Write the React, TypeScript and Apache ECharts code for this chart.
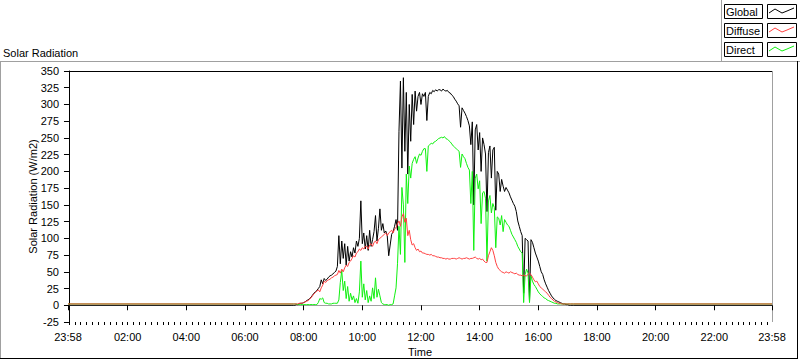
import { useEffect, useRef } from 'react';
import * as echarts from 'echarts';

const FONT = '"Liberation Sans", Arial, sans-serif';

// time axis: minutes from 00:00 (-2 = 23:58 of previous day, 1438 = 23:58)
const axisStartMinute = -2;
const axisEndMinute = 1438;
const xLabelMinutes = [-2, 120, 240, 360, 480, 600, 720, 840, 960, 1080, 1200, 1320, 1438];
const yMin = -25;
const yMax = 350;
const yStep = 25;

// night-time levels (W/m2)
const nightGlobal = 0;
const nightDiffuse = 2;
const nightDirect = 2;

// daytime samples, first at 07:39, one every 3 minutes
const dayStartMinute = 459;
const dayStepMinutes = 3;

const globalDay = [
  0, 0, 1, 1, 2, 3, 3, 4, 5, 7,
  8, 10, 12, 15, 18, 20, 22, 25, 28, 38,
  32, 40, 37, 39, 42, 44, 45, 47, 49, 51,
  58, 104, 62, 96, 70, 92, 60, 88, 66, 80,
  72, 86, 78, 96, 88, 100, 156, 92, 108, 84,
  104, 82, 112, 88, 98, 110, 134, 96, 115, 144,
  112, 122, 108, 111, 104, 74, 90, 106, 110, 118,
  128, 112, 260, 335, 205, 340, 230, 318, 196, 300,
  245, 315, 270, 320, 290, 312, 318, 300, 316, 312,
  318, 276, 312, 318, 316, 321, 319, 322, 320, 322,
  322, 320, 323, 321, 320, 321, 318, 317, 314, 312,
  308, 305, 301, 298, 266, 295, 291, 287, 282, 276,
  268, 240, 274, 150, 262, 270, 232, 258, 200, 250,
  240, 226, 140, 228, 238, 190, 232, 236, 142, 200,
  196, 170, 188, 178, 170, 176, 172, 168, 162, 157,
  152, 148, 140, 126, 118, 110, 104, 18, 100, 98,
  96, 6, 98, 94, 86, 78, 72, 66, 58, 50,
  46, 38, 32, 27, 22, 18, 14, 11, 9, 7,
  6, 5, 4, 3, 2, 2, 1, 1, 0, 0,
  0, 0,
];

const diffuseDay = [
  2, 2, 2, 2, 3, 3, 3, 4, 5, 6,
  7, 9, 11, 14, 17, 19, 21, 23, 20, 26,
  30, 36, 34, 37, 38, 39, 41, 42, 44, 45,
  46, 52, 48, 54, 50, 56, 60, 58, 64, 66,
  70, 74, 72, 78, 80, 84, 82, 86, 84, 88,
  88, 84, 90, 92, 88, 94, 96, 92, 98, 100,
  102, 104, 106, 108, 104, 108, 110, 112, 108, 114,
  116, 122, 126, 118, 132, 137, 124, 130, 104, 112,
  98, 90, 92, 86, 82, 84, 80, 81, 78, 78,
  77, 76, 76, 75, 76, 74, 74, 73, 72, 72,
  71, 71, 70, 70, 69, 70, 69, 69, 70, 70,
  70, 69, 70, 71, 70, 69, 70, 70, 71, 70,
  69, 70, 70, 71, 72, 70, 69, 70, 68, 69,
  66, 64, 64, 74, 80, 86, 82, 74, 64, 58,
  54, 52, 50, 49, 48, 50, 49, 48, 50, 49,
  48, 47, 48, 46, 45, 45, 44, 45, 44, 44,
  46, 48, 46, 42, 38, 35, 36, 32, 28, 26,
  24, 22, 20, 18, 15, 12, 10, 8, 6, 5,
  4, 3, 3, 2, 2, 2, 2, 2, 2, 2,
  2, 2,
];

const directDay = [
  2, 2, 2, 1, 1, 1, 1, 1, 1, 1,
  1, 1, 1, 1, 1, 1, 1, 4, 10, 9,
  11, 4, 3, 3, 2, 2, 2, 3, 3, 3,
  3, 8, 34, 52, 22, 36, 10, 28, 6, 18,
  8, 14, 4, 10, 3, 20, 66, 12, 32, 8,
  22, 4, 14, 6, 26, 10, 41, 12, 24, 14,
  4, 2, 1, 1, 1, 0, 1, 1, 2, 14,
  26, 62, 118, 76, 176, 150, 64, 196, 152, 208,
  190, 212, 218, 222, 212, 220, 226, 224, 230, 234,
  234, 200, 238, 240, 242, 241, 244, 245, 247, 249,
  250, 251, 250, 252, 249, 248, 246, 244, 241, 238,
  236, 234, 232, 230, 206, 226, 222, 219, 212, 206,
  202, 152, 200, 82, 190, 196, 174, 186, 122, 168,
  170, 160, 66, 156, 164, 138, 152, 146, 86, 132,
  130, 120, 134, 110, 128, 124, 120, 118, 112, 106,
  102, 98, 94, 88, 84, 80, 78, 4, 46, 54,
  48, 4, 44, 36, 31, 28, 24, 20, 17, 15,
  13, 11, 10, 8, 7, 6, 5, 4, 3, 3,
  2, 2, 2, 2, 2, 2, 2, 2, 2, 2,
  2, 2,
];

const seriesNames = ['Global', 'Diffuse', 'Direct'];
const seriesColors = ['#000000', '#ff4040', '#10f010'];
const yAxisTitle = 'Solar Radiation (W/m2)';
const xAxisTitle = 'Time';
const chartTitle = 'Solar Radiation';

function buildSeries(night: number, day: number[]): number[][] {
  const pts: number[][] = [[axisStartMinute, night], [dayStartMinute - dayStepMinutes, night]];
  day.forEach((v, i) => pts.push([dayStartMinute + i * dayStepMinutes, v]));
  pts.push([dayStartMinute + day.length * dayStepMinutes, night]);
  pts.push([axisEndMinute, night]);
  return pts;
}

function fmtMinute(v: number): string {
  if (v <= axisStartMinute || v >= axisEndMinute) return '23:58';
  const h = Math.floor(v / 60);
  const m = Math.round(v - h * 60);
  return String(h).padStart(2, '0') + ':' + String(m).padStart(2, '0');
}

const minorTickMinutes: number[] = [];
for (let m = 0; m < axisEndMinute; m += 12) minorTickMinutes.push(m);

function legendGraphics() {
  const els: any[] = [];
  const tops = [4, 23, 42];
  const zig = [[2, 9], [8, 5], [15, 9], [20, 7], [27, 4]];
  seriesNames.forEach((name, k) => {
    const t = tops[k];
    els.push({
      type: 'rect', shape: { x: 724.5, y: t + 0.5, width: 38, height: 14 },
      style: { fill: '#fff', stroke: '#000', lineWidth: 1 }, silent: true,
    });
    els.push({
      type: 'text', x: 726, y: t + 8,
      style: { text: name, font: `11px ${FONT}`, fill: '#000', verticalAlign: 'middle', align: 'left' },
      silent: true,
    });
    els.push({
      type: 'rect', shape: { x: 767.5, y: t + 0.5, width: 29, height: 14 },
      style: { fill: '#fff', stroke: '#000', lineWidth: 1 }, silent: true,
    });
    els.push({
      type: 'polyline', shape: { points: zig.map(([a, b]) => [767 + a, t + b]) },
      style: { stroke: seriesColors[k], lineWidth: 1, fill: 'none' }, silent: true,
    });
  });
  return els;
}

export default function App() {
  const ref = useRef<HTMLDivElement>(null);
  useEffect(() => {
    const chart = echarts.init(ref.current!, null, { renderer: 'svg' });
    const axisFont = { fontFamily: FONT, fontSize: 11, color: '#000' };
    chart.setOption({
      animation: false,
      backgroundColor: '#fff',
      grid: { left: 68, top: 71, right: 28, bottom: 39, containLabel: false, outerBoundsMode: 'none' },
      xAxis: [
        {
          type: 'value', min: axisStartMinute, max: axisEndMinute,
          name: xAxisTitle, nameLocation: 'middle', nameGap: 24,
          nameTextStyle: { ...axisFont },
          axisLine: { show: true, lineStyle: { color: '#a0a0a0', width: 1 } },
          axisTick: { show: true, length: 5, customValues: xLabelMinutes, lineStyle: { color: '#000' } },
          axisLabel: { ...axisFont, margin: 9, customValues: xLabelMinutes, formatter: (v: number) => fmtMinute(v) },
          splitLine: { show: false },
        },
        {
          type: 'value', min: axisStartMinute, max: axisEndMinute, position: 'bottom',
          axisLine: { show: false },
          axisTick: { show: true, length: 3, customValues: minorTickMinutes, lineStyle: { color: '#000' } },
          axisLabel: { show: false },
          splitLine: { show: false },
        },
      ],
      yAxis: {
        type: 'value', min: yMin, max: yMax, interval: yStep,
        axisLine: { show: true, lineStyle: { color: '#000', width: 1 } },
        axisTick: { show: true, length: 5, lineStyle: { color: '#000' } },
        axisLabel: { ...axisFont, margin: 9 },
        splitLine: { show: false },
      },
      graphic: [
        { type: 'line', shape: { x1: 0, y1: 61.5, x2: 800, y2: 61.5 }, style: { stroke: '#a0a0a0', lineWidth: 1 }, silent: true },
        { type: 'line', shape: { x1: 721.5, y1: 0, x2: 721.5, y2: 61 }, style: { stroke: '#a0a0a0', lineWidth: 1 }, silent: true },
        { type: 'line', shape: { x1: 0.5, y1: 61, x2: 0.5, y2: 359 }, style: { stroke: '#a0a0a0', lineWidth: 1 }, silent: true },
        { type: 'line', shape: { x1: 0, y1: 358.5, x2: 798, y2: 358.5 }, style: { stroke: '#000', lineWidth: 1 }, silent: true },
        { type: 'line', shape: { x1: 797.5, y1: 61, x2: 797.5, y2: 359 }, style: { stroke: '#000', lineWidth: 1 }, silent: true },
        { type: 'line', shape: { x1: 68, y1: 71.5, x2: 772, y2: 71.5 }, style: { stroke: '#000', lineWidth: 1 }, silent: true },
        { type: 'line', shape: { x1: 772.5, y1: 71, x2: 772.5, y2: 322 }, style: { stroke: '#a0a0a0', lineWidth: 1 }, silent: true },
        {
          type: 'text', x: 3, y: 52.5,
          style: { text: chartTitle, font: `11px ${FONT}`, fill: '#000', verticalAlign: 'middle', align: 'left' },
          silent: true,
        },
        {
          type: 'text', x: 33, y: 196.5, rotation: Math.PI / 2,
          style: { text: yAxisTitle, font: `11px ${FONT}`, fill: '#000', verticalAlign: 'middle', align: 'center' },
          silent: true,
        },
        ...legendGraphics(),
      ],
      series: [
        { name: 'Global', data: buildSeries(nightGlobal, globalDay), color: seriesColors[0] },
        { name: 'Direct', data: buildSeries(nightDirect, directDay), color: seriesColors[2] },
        { name: 'Diffuse', data: buildSeries(nightDiffuse, diffuseDay), color: seriesColors[1] },
      ].map((s) => ({
        ...s, type: 'line', xAxisIndex: 0, yAxisIndex: 0, showSymbol: false, symbol: 'none',
        lineStyle: { width: 1, color: s.color }, silent: true,
      })),
    });
    return () => chart.dispose();
  }, []);
  return (
    <div
      ref={ref}
      style={{ position: 'fixed', left: 0, top: 0, width: 800, height: 361, background: '#fff' }}
    />
  );
}
